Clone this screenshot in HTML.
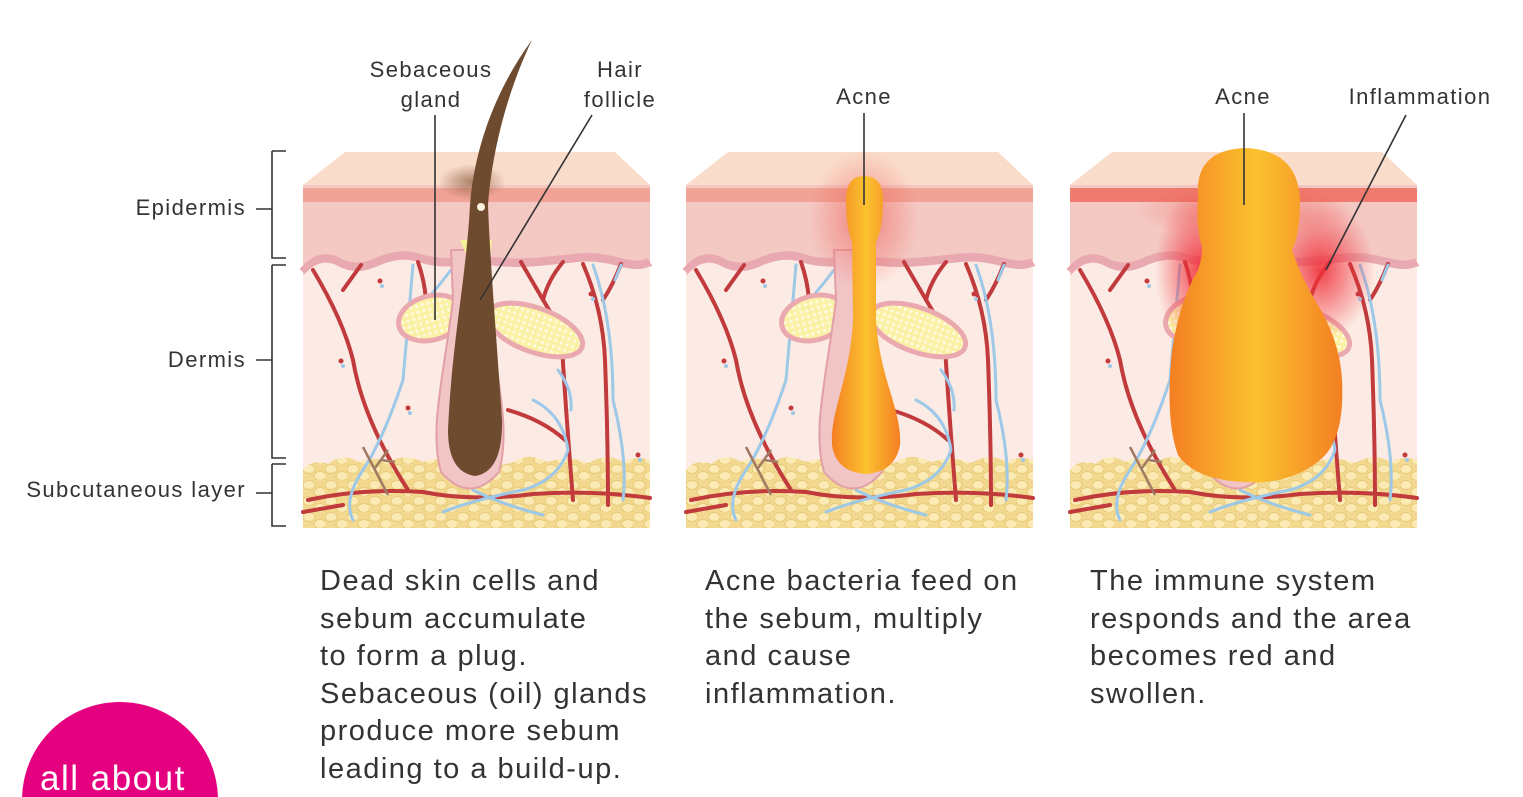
<!DOCTYPE html>
<html><head><meta charset="utf-8"><style>
html,body{margin:0;padding:0;background:#fff;overflow:hidden;}
svg{display:block;}
text{font-family:"Liberation Sans",sans-serif;}
</style></head><body>
<svg width="1523" height="797" viewBox="0 0 1523 797" xmlns="http://www.w3.org/2000/svg">
<defs>
<pattern id="fat" width="22" height="16" patternUnits="userSpaceOnUse">
<rect width="22" height="16" fill="#f3d98f"/>
<ellipse cx="6" cy="5" rx="6" ry="4.5" fill="#fbeab3" stroke="#e8cb7a" stroke-width="1"/>
<ellipse cx="17" cy="12" rx="6" ry="4.5" fill="#fbeab3" stroke="#e8cb7a" stroke-width="1"/>
</pattern>
<pattern id="dots" width="6" height="6" patternUnits="userSpaceOnUse">
<rect width="6" height="6" fill="#fbf1a6"/><circle cx="3" cy="3" r="1.6" fill="#fffbe0"/>
</pattern>
<linearGradient id="acne" x1="0" x2="1" y1="0" y2="0">
<stop offset="0" stop-color="#f47f22"/><stop offset="0.5" stop-color="#fbc22f"/><stop offset="1" stop-color="#f47f22"/>
</linearGradient>
<radialGradient id="glow"><stop offset="0" stop-color="#f0303a" stop-opacity="0.9"/><stop offset="1" stop-color="#f0303a" stop-opacity="0"/></radialGradient>
<radialGradient id="glow2"><stop offset="0" stop-color="#f05a50" stop-opacity="0.6"/><stop offset="1" stop-color="#f05a50" stop-opacity="0"/></radialGradient>
<radialGradient id="hglow"><stop offset="0" stop-color="#8a5a3a" stop-opacity="0.7"/><stop offset="1" stop-color="#8a5a3a" stop-opacity="0"/></radialGradient>
<g id="panel">
<polygon points="42,152 312,152 347,185 0,185" fill="#fadccb"/>
<rect x="0" y="185" width="347" height="90" fill="#f4c8c3"/>
<rect x="0" y="188" width="347" height="14" fill="#f0a396"/>
<path d="M0,272 Q17,252 35,262 T75,262 T115,258 T155,262 T195,262 T235,262 T275,258 T315,262 T347,262" fill="none" stroke="#e8aab0" stroke-width="9"/>
<path d="M0,276 Q17,256 35,266 T75,266 T115,262 T155,266 T195,266 T235,266 T275,262 T315,266 T347,266 L347,528 L0,528 Z" fill="#fcebe4"/>
<path d="M0,470 Q10,458 25,464 Q40,452 55,462 Q70,455 85,463 Q100,452 120,462 Q140,455 160,465 Q185,470 210,462 Q225,452 245,462 Q265,455 285,463 Q305,452 320,462 Q335,455 347,460 L347,528 L0,528 Z" fill="url(#fat)"/>
<g fill="none" stroke="#c13b3d" stroke-width="4" stroke-linecap="round">
<path d="M5,500 Q60,488 120,492 Q170,502 230,494 Q290,490 347,498"/>
<path d="M40,505 L0,512"/>
<path d="M10,270 Q40,320 50,360 Q60,420 105,490"/>
<path d="M40,290 L58,265"/>
<path d="M115,262 Q128,300 120,330"/>
<path d="M218,262 Q240,300 258,330 Q262,400 270,500"/>
<path d="M240,300 Q245,280 260,262"/>
<path d="M280,264 Q300,310 302,360 Q305,440 305,505"/>
<path d="M300,300 Q310,285 318,264"/>
<path d="M205,410 Q240,420 262,440"/>
</g>
<g fill="none" stroke="#9dc8e8" stroke-width="3" stroke-linecap="round">
<path d="M110,265 Q105,320 100,380 Q80,440 60,470 Q40,500 50,520"/>
<path d="M105,320 Q125,300 148,270"/>
<path d="M290,265 Q310,320 310,400 Q325,460 320,500"/>
<path d="M312,280 L318,265"/>
<path d="M230,400 Q260,415 265,450 Q255,480 220,490 Q170,500 140,512"/>
<path d="M255,370 Q270,390 268,410"/>
<path d="M170,490 Q200,505 240,515"/>
</g>
<g fill="none" stroke="#a07a62" stroke-width="2.5"><path d="M60,447 L85,495"/><path d="M72,468 L85,450 M78,460 L92,462"/></g>
<g><circle cx="77" cy="281" r="2.5" fill="#c13b3d"/><circle cx="79" cy="286" r="2" fill="#9dc8e8"/>
<circle cx="38" cy="361" r="2.5" fill="#c13b3d"/><circle cx="40" cy="366" r="2" fill="#9dc8e8"/>
<circle cx="288" cy="294" r="2.5" fill="#c13b3d"/><circle cx="290" cy="299" r="2" fill="#9dc8e8"/>
<circle cx="105" cy="408" r="2.5" fill="#c13b3d"/><circle cx="107" cy="413" r="2" fill="#9dc8e8"/>
<circle cx="335" cy="455" r="2.5" fill="#c13b3d"/><circle cx="337" cy="460" r="2" fill="#9dc8e8"/></g>
<ellipse cx="128" cy="318" rx="33" ry="22" transform="rotate(-15 128 318)" fill="url(#dots)" stroke="#eaa9ae" stroke-width="5"/>
<ellipse cx="232" cy="330" rx="50" ry="22" transform="rotate(20 232 330)" fill="url(#dots)" stroke="#eaa9ae" stroke-width="5"/>
<path d="M148,250 L150,300 C140,380 126,430 138,472 Q167,505 196,472 C208,430 194,380 184,300 L186,250 Z" fill="#f1c4c6" stroke="#e2a0a6" stroke-width="2"/>
</g>
</defs>

<use href="#panel" x="303"/>
<use href="#panel" x="686"/>
<use href="#panel" x="1070"/>

<!-- panel 1 hair -->
<ellipse cx="472" cy="182" rx="34" ry="18" fill="url(#hglow)"/>
<path d="M460,240 L492,240 L486,300 Z" fill="#f7ef9a"/>
<path d="M532,40 C508,90 492,150 488,205 C490,260 496,330 502,420 Q503,472 475,476 Q448,472 448,430 C452,340 466,280 470,205 C474,150 495,90 532,40 Z" fill="#6e4b2f"/>
<circle cx="481" cy="207" r="4" fill="#fff4e0"/>

<!-- panel 2 acne -->
<ellipse cx="864" cy="220" rx="55" ry="70" fill="url(#glow2)"/>
<path d="M846,200 Q846,176 864,176 Q883,176 883,200 Q883,228 876,242 L876,320 C880,380 902,410 900,445 Q895,472 866,474 Q836,472 832,445 C830,410 850,380 853,320 L852,242 Q846,228 846,200 Z" fill="url(#acne)"/>

<!-- panel 3 acne -->
<rect x="1070" y="188" width="347" height="14" fill="#ee6a5c" opacity="0.7"/>
<ellipse cx="1200" cy="270" rx="45" ry="80" fill="url(#glow)"/>
<ellipse cx="1320" cy="270" rx="55" ry="70" fill="url(#glow)"/>
<ellipse cx="1245" cy="210" rx="110" ry="30" fill="url(#glow2)"/>
<path d="M1198,195 Q1195,150 1245,148 Q1298,150 1300,200 Q1300,235 1292,250 Q1300,275 1315,300 Q1340,340 1342,380 Q1345,440 1320,460 Q1290,485 1245,482 Q1195,480 1178,455 Q1165,420 1172,350 Q1180,300 1198,270 Q1205,250 1200,240 Q1196,220 1198,195 Z" fill="url(#acne)"/>

<!-- leader lines -->
<g stroke="#333" stroke-width="1.6" fill="none">
<line x1="435" y1="115" x2="435" y2="320"/>
<line x1="592" y1="115" x2="480" y2="300"/>
<line x1="864" y1="113" x2="864" y2="205"/>
<line x1="1244" y1="113" x2="1244" y2="205"/>
<line x1="1406" y1="115" x2="1326" y2="270"/>
<path d="M272,151 H286 M272,151 V258 H286 M272,209 H256"/>
<path d="M272,265 H286 M272,265 V458 H286 M272,360 H256"/>
<path d="M272,464 H286 M272,464 V526 H286 M272,493 H256"/>
</g>

<g fill="#333" font-size="22" letter-spacing="1.4">
<text x="431" y="77" text-anchor="middle">Sebaceous</text>
<text x="431" y="107" text-anchor="middle">gland</text>
<text x="620" y="77" text-anchor="middle">Hair</text>
<text x="620" y="107" text-anchor="middle">follicle</text>
<text x="864" y="104" text-anchor="middle">Acne</text>
<text x="1243" y="104" text-anchor="middle">Acne</text>
<text x="1420" y="104" text-anchor="middle">Inflammation</text>
<text x="246" y="215" text-anchor="end">Epidermis</text>
<text x="246" y="367" text-anchor="end">Dermis</text>
<text x="246" y="497" text-anchor="end">Subcutaneous layer</text>
</g>

<g fill="#333" font-size="29" letter-spacing="1.5">
<text x="320" y="590">Dead skin cells and</text>
<text x="320" y="628">sebum accumulate</text>
<text x="320" y="665">to form a plug.</text>
<text x="320" y="703">Sebaceous (oil) glands</text>
<text x="320" y="740">produce more sebum</text>
<text x="320" y="778">leading to a build-up.</text>
<text x="705" y="590">Acne bacteria feed on</text>
<text x="705" y="628">the sebum, multiply</text>
<text x="705" y="665">and cause</text>
<text x="705" y="703">inflammation.</text>
<text x="1090" y="590">The immune system</text>
<text x="1090" y="628">responds and the area</text>
<text x="1090" y="665">becomes red and</text>
<text x="1090" y="703">swollen.</text>
</g>

<circle cx="120" cy="800" r="98" fill="#e5007f"/>
<text x="40" y="790" fill="#fff" font-size="35" letter-spacing="1.5">all about</text>
</svg>
</body></html>
